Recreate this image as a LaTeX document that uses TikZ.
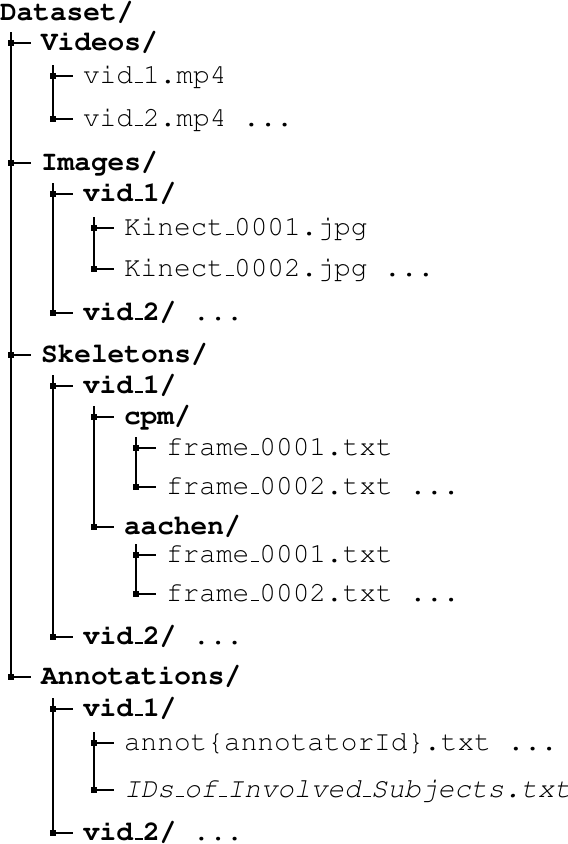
\documentclass[tikz,border=0pt]{standalone}
\usepackage[T1]{fontenc}
\usepackage{courier}
\newcommand\us{\kern.06em\vbox{\hrule width .3em height 1.2pt}}
\newcommand\ub{\kern.06em\vbox{\hrule width .3em height 2.2pt}}
\newcommand\ttsz{\fontsize{27.8}{33}\selectfont\ttfamily}
\tikzset{
  filen/.style={anchor=base west, inner sep=0pt, outer sep=0pt, font=\ttsz},
  dirn/.style={filen, font=\ttsz\bfseries},
  itn/.style={filen, font=\ttsz\itshape},
  mk/.style={fill=black, draw=none, inner sep=0pt, minimum size=6pt},
  lnA/.style={line width=1.6pt},
  lnB/.style={line width=1.1pt},
}
% name, line x, marker y, text style, line style, text
\newcommand\fentry[6]{%
  \node[mk] (m#1) at (#2,-#3) {};
  \draw[#5] (m#1.center) -- ++(20,0);
  \node[#4] (t#1) at (#2+30,-#3-7) {#6};
}
\begin{document}
\begin{tikzpicture}[x=1pt,y=1pt]
\useasboundingbox (0,0) rectangle (568,-844);
\node[dirn] (tDataset) at (0,-20) {Dataset/};
% level 1
\fentry{Videos}{11}{43}{dirn}{lnA}{Videos/}
\fentry{VidA}{53}{76}{filen}{lnB}{vid\us 1.mp4}
\fentry{VidB}{53}{119}{filen}{lnB}{vid\us 2.mp4 ...}
\fentry{Images}{11}{163}{dirn}{lnA}{Images/}
\fentry{IvA}{53}{194}{dirn}{lnB}{vid\ub 1/}
\fentry{KA}{94}{228}{filen}{lnB}{Kinect\us 0001.jpg}
\fentry{KB}{94}{269}{filen}{lnB}{Kinect\us 0002.jpg ...}
\fentry{IvB}{53}{313}{dirn}{lnB}{vid\ub 2/ \textmd{...}}
\fentry{Skel}{11}{355}{dirn}{lnA}{Skeletons/}
\fentry{SvA}{53}{386}{dirn}{lnB}{vid\ub 1/}
\fentry{Cpm}{94}{417}{dirn}{lnB}{cpm/}
\fentry{CfA}{136}{448}{filen}{lnB}{frame\us 0001.txt}
\fentry{CfB}{136}{487}{filen}{lnB}{frame\us 0002.txt ...}
\fentry{Aach}{94}{527}{dirn}{lnB}{aachen/}
\fentry{AfA}{136}{555}{filen}{lnB}{frame\us 0001.txt}
\fentry{AfB}{136}{594}{filen}{lnB}{frame\us 0002.txt ...}
\fentry{SvB}{53}{637}{dirn}{lnB}{vid\ub 2/ \textmd{...}}
\fentry{Annot}{11}{677}{dirn}{lnA}{Annotations/}
\fentry{AvA}{53}{709}{dirn}{lnB}{vid\ub 1/}
\fentry{AnF}{94}{743}{filen}{lnB}{annot\{annotatorId\}.txt ...}
\fentry{IdF}{94}{790}{itn}{lnB}{IDs\us of\us Involved\us Subjects.txt}
\fentry{AvB}{53}{833}{dirn}{lnB}{vid\ub 2/ \textmd{...}}
% vertical lines
\draw[lnA] ([yshift=11pt]mVideos.center) -- (mAnnot.center);
\draw[lnB] ([yshift=11pt]mVidA.center) -- (mVidB.center);
\draw[lnB] ([yshift=11pt]mIvA.center) -- (mIvB.center);
\draw[lnB] ([yshift=11pt]mKA.center) -- (mKB.center);
\draw[lnB] ([yshift=11pt]mSvA.center) -- (mSvB.center);
\draw[lnB] ([yshift=11pt]mCpm.center) -- (mAach.center);
\draw[lnB] ([yshift=11pt]mCfA.center) -- (mCfB.center);
\draw[lnB] ([yshift=11pt]mAfA.center) -- (mAfB.center);
\draw[lnB] ([yshift=11pt]mAvA.center) -- (mAvB.center);
\draw[lnB] ([yshift=11pt]mAnF.center) -- (mIdF.center);
\end{tikzpicture}
\end{document}
